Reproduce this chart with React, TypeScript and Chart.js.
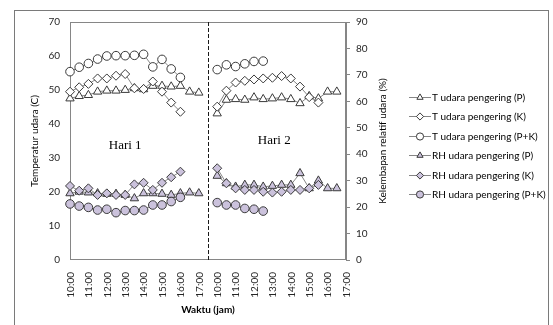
import { useEffect, useRef } from 'react';
import { Chart, registerables } from 'chart.js';

Chart.register(...registerables);

// ---- categories (half-hour steps, day 1 | separator | day 2) ----
const TIME_CATEGORIES = [
  '10:00', '10:30', '11:00', '11:30', '12:00', '12:30', '13:00', '13:30',
  '14:00', '14:30', '15:00', '15:30', '16:00', '16:30', '17:00',
  '',
  '10:00', '10:30', '11:00', '11:30', '12:00', '12:30', '13:00', '13:30',
  '14:00', '14:30', '15:00', '15:30', '16:00', '16:30', '17:00',
];
const DAY_SEPARATOR_INDEX = 15;

// ---- series (temperature, left axis) ----
const T_P = [
  47.5, 48.2, 48.5, 49.5, 49.8, 49.8, 50.0, 50.5, 50.2, 51.2, 51.2, 51.0, 51.2, 49.5, 49.2,
  null,
  43.1, 47.1, 47.3, 47.1, 47.8, 47.3, 47.5, 47.8, 47.3, 46.1, 48.2, 47.5, 49.5, 49.5, null,
];
const T_K = [
  49.5, 50.8, 51.8, 53.4, 53.4, 54.2, 54.7, 50.5, 50.3, 52.5, 49.5, 46.3, 43.6, null, null,
  null,
  45.1, 49.8, 52.2, 52.7, 53.1, 53.4, 53.6, 54.1, 53.4, 51.0, 47.9, 46.3, null, null, null,
];
const T_PK = [
  55.4, 56.7, 57.8, 59.1, 60.0, 60.1, 60.1, 60.2, 60.5, 56.8, 59.0, 56.2, 53.7, null, null,
  null,
  56.0, 57.4, 56.9, 57.7, 58.4, 58.5, null, null, null, null, null, null, null, null, null,
];

// ---- series (relative humidity, right axis) ----
const RH_P = [
  25.2, 25.8, 25.5, 25.2, 25.0, 25.0, 24.6, 23.3, 25.2, 25.2, 25.0, 24.6, 25.2, 25.5, 25.2,
  null,
  31.8, 29.0, 27.7, 28.4, 28.4, 27.7, 28.0, 28.4, 28.4, 32.8, 27.1, 30.0, 27.1, 27.1, null,
];
const RH_K = [
  28.0, 26.2, 27.1, 24.6, 25.2, 24.6, 24.6, 28.6, 29.2, 26.5, 29.2, 31.3, 33.4, null, null,
  null,
  34.7, 29.0, 27.1, 26.5, 26.5, 25.8, 25.5, 25.8, 26.5, 26.5, 27.1, 28.4, null, null, null,
];
const RH_PK = [
  21.2, 20.4, 19.9, 18.9, 19.2, 17.9, 18.7, 18.7, 18.9, 20.8, 20.8, 22.1, 23.7, null, null,
  null,
  21.7, 20.8, 20.8, 19.5, 19.2, 18.5, null, null, null, null, null, null, null, null, null,
];

const SERIES_LABELS = [
  'T udara pengering (P)',
  'T udara pengering (K)',
  'T udara pengering (P+K)',
  'RH udara pengering (P)',
  'RH udara pengering (K)',
  'RH udara pengering (P+K)',
];

// ---- axes ----
const LEFT_AXIS_TITLE = 'Temperatur udara (C)';
const RIGHT_AXIS_TITLE = 'Kelembapan relatif udara (%)';
const X_AXIS_TITLE = 'Waktu (jam)';
const LEFT_MIN = 0, LEFT_MAX = 70, LEFT_STEP = 10;
const RIGHT_MIN = 0, RIGHT_MAX = 90, RIGHT_STEP = 10;

// ---- annotations ----
const DAY_NOTES = ['Hari 1', 'Hari 2'];
const DAY_NOTE_X = [6, 22.2];
const DAY_NOTE_Y = [33.8, 35];

const FONT = 'Lato';
const LINE = '#868686';
const MARK = '#3a3a3a';
const RH_FILL = '#cbc2dc';
const AXIS_GRAY = '#868686';
const TICK_COLOR = '#262626';

function drawMarker(ctx: CanvasRenderingContext2D, style: string, cx: number, cy: number, r: number, fill: string) {
  ctx.beginPath();
  if (style === 'circle') {
    ctx.arc(cx, cy, r, 0, Math.PI * 2);
  } else if (style === 'triangle') {
    ctx.moveTo(cx, cy - r);
    ctx.lineTo(cx + r * 0.866, cy + r * 0.5);
    ctx.lineTo(cx - r * 0.866, cy + r * 0.5);
    ctx.closePath();
  } else {
    ctx.moveTo(cx - r, cy);
    ctx.lineTo(cx, cy - r);
    ctx.lineTo(cx + r, cy);
    ctx.lineTo(cx, cy + r);
    ctx.closePath();
  }
  ctx.fillStyle = fill;
  ctx.fill();
  ctx.strokeStyle = MARK;
  ctx.lineWidth = 1;
  ctx.stroke();
}

export default function App() {
  const ref = useRef<HTMLCanvasElement>(null);

  useEffect(() => {
    if (!ref.current) return;

    const styles = ['triangle', 'rectRot', 'circle', 'triangle', 'rectRot', 'circle'];
    const fills = ['#ffffff', '#ffffff', '#ffffff', RH_FILL, RH_FILL, RH_FILL];
    const radii = [4.8, 4.5, 4.3, 4.8, 4.5, 4.3];
    const values = [T_P, T_K, T_PK, RH_P, RH_K, RH_PK];
    const axes = ['y', 'y', 'y', 'y1', 'y1', 'y1'];

    const datasets = values.map((data, i) => ({
      label: SERIES_LABELS[i],
      data,
      yAxisID: axes[i],
      borderColor: LINE,
      borderWidth: 1,
      pointStyle: styles[i],
      pointRadius: radii[i],
      pointBackgroundColor: fills[i],
      pointBorderColor: MARK,
      pointBorderWidth: 1,
      spanGaps: false,
      tension: 0,
      order: 10 - i,
    }));

    const decor = {
      id: 'decor',
      beforeDatasetsDraw(chart: any) {
        const { ctx, chartArea } = chart;
        const x = chart.scales.x;
        ctx.save();
        ctx.strokeStyle = AXIS_GRAY;
        ctx.lineWidth = 1;
        ctx.strokeRect(
          Math.round(chartArea.left) + 0.5,
          Math.round(chartArea.top) + 0.5,
          Math.round(chartArea.right - chartArea.left) - 1,
          Math.round(chartArea.bottom - chartArea.top) - 1,
        );
        const sx = Math.round(x.getPixelForValue(DAY_SEPARATOR_INDEX)) + 0.5;
        ctx.strokeStyle = '#1a1a1a';
        ctx.setLineDash([4, 2]);
        ctx.beginPath();
        ctx.moveTo(sx, chartArea.top);
        ctx.lineTo(sx, chartArea.bottom);
        ctx.stroke();
        ctx.restore();
      },
      afterDraw(chart: any) {
        const { ctx, chartArea } = chart;
        const x = chart.scales.x;
        const y = chart.scales.y;
        const y1 = chart.scales.y1;
        ctx.save();
        // x tick labels (full hours, rotated, reading bottom to top)
        ctx.font = `10px ${FONT}`;
        ctx.fillStyle = TICK_COLOR;
        ctx.textAlign = 'right';
        ctx.textBaseline = 'middle';
        TIME_CATEGORIES.forEach((l, i) => {
          if (!l.endsWith(':00')) return;
          ctx.save();
          ctx.translate(x.getPixelForValue(i) + 0.5, chartArea.bottom + 12);
          ctx.rotate(-Math.PI / 2);
          ctx.fillText(l, 0, 0);
          ctx.restore();
        });
        // day notes
        ctx.fillStyle = '#000';
        ctx.font = '13px "Liberation Serif"';
        ctx.textAlign = 'center';
        ctx.textBaseline = 'middle';
        DAY_NOTES.forEach((t, i) => {
          ctx.fillText(t, x.getPixelForValue(DAY_NOTE_X[i]), y.getPixelForValue(DAY_NOTE_Y[i]));
        });
        // legend
        ctx.font = `10px ${FONT}`;
        ctx.textAlign = 'left';
        const lx = chartArea.right + 63;
        SERIES_LABELS.forEach((t, i) => {
          const ly = Math.round(chartArea.top + 74.5 + i * 19.5) + 0.5;
          ctx.strokeStyle = LINE;
          ctx.lineWidth = 1;
          ctx.beginPath();
          ctx.moveTo(lx, ly);
          ctx.lineTo(lx + 22, ly);
          ctx.stroke();
          drawMarker(ctx, styles[i], lx + 11, ly, 3.6, fills[i]);
          ctx.fillStyle = '#000';
          ctx.fillText(t, lx + 23, ly);
        });
        // right axis title (reads bottom to top)
        ctx.font = `10px ${FONT}`;
        ctx.fillStyle = '#000';
        ctx.textAlign = 'center';
        ctx.translate(y1.left + 37, (chartArea.top + chartArea.bottom) / 2);
        ctx.rotate(-Math.PI / 2);
        ctx.fillText(RIGHT_AXIS_TITLE, 0, 0);
        ctx.restore();
      },
    };

    const chart = new Chart(ref.current, {
      type: 'line',
      data: { labels: TIME_CATEGORIES, datasets: datasets as any },
      plugins: [decor],
      options: {
        animation: false,
        responsive: true,
        maintainAspectRatio: false,
        layout: { padding: { top: 22, left: 0, right: 149, bottom: 0 } },
        font: { family: FONT },
        plugins: {
          tooltip: { enabled: false },
          legend: { display: false },
        },
        scales: {
          x: {
            type: 'category',
            grid: { display: false, drawTicks: false },
            border: { display: false },
            ticks: { display: false, autoSkip: false },
            title: {
              display: true,
              text: X_AXIS_TITLE,
              color: '#000',
              font: { family: FONT, size: 10, weight: 'bold' },
              padding: { top: 0, bottom: 9 },
            },
            afterFit: (s: any) => {
              s.height = 65;
            },
          },
          y: {
            position: 'left',
            min: LEFT_MIN,
            max: LEFT_MAX,
            grid: { display: false, drawTicks: false },
            border: { display: false },
            ticks: {
              stepSize: LEFT_STEP,
              padding: 10,
              color: TICK_COLOR,
              font: { family: FONT, size: 10 },
            },
            title: {
              display: true,
              text: LEFT_AXIS_TITLE,
              color: '#000',
              font: { family: FONT, size: 10 },
              padding: { top: 29, bottom: 0 },
            },
            afterFit: (s: any) => {
              s.width = 70;
            },
          },
          y1: {
            position: 'right',
            min: RIGHT_MIN,
            max: RIGHT_MAX,
            grid: { display: true, drawOnChartArea: false, drawTicks: true, tickLength: 4, color: AXIS_GRAY },
            border: { display: true, color: AXIS_GRAY },
            ticks: {
              stepSize: RIGHT_STEP,
              padding: 6,
              color: TICK_COLOR,
              font: { family: FONT, size: 10 },
            },
            afterFit: (s: any) => {
              s.width = 58;
            },
          },
        },
      } as any,
    });

    return () => chart.destroy();
  }, []);

  return (
    <div style={{ position: 'fixed', left: 0, top: 0, width: 553, height: 325, background: '#fff', overflow: 'hidden' }}>
      <div
        style={{
          position: 'absolute',
          left: 14,
          top: 10,
          width: 533,
          height: 340,
          borderTop: '1px solid #7a7a7a',
          borderLeft: '1px solid #7a7a7a',
          borderRight: '1px solid #7a7a7a',
        }}
      />
      <div style={{ position: 'absolute', left: 0, top: 0, width: 553, height: 325 }}>
        <canvas ref={ref} />
      </div>
    </div>
  );
}
